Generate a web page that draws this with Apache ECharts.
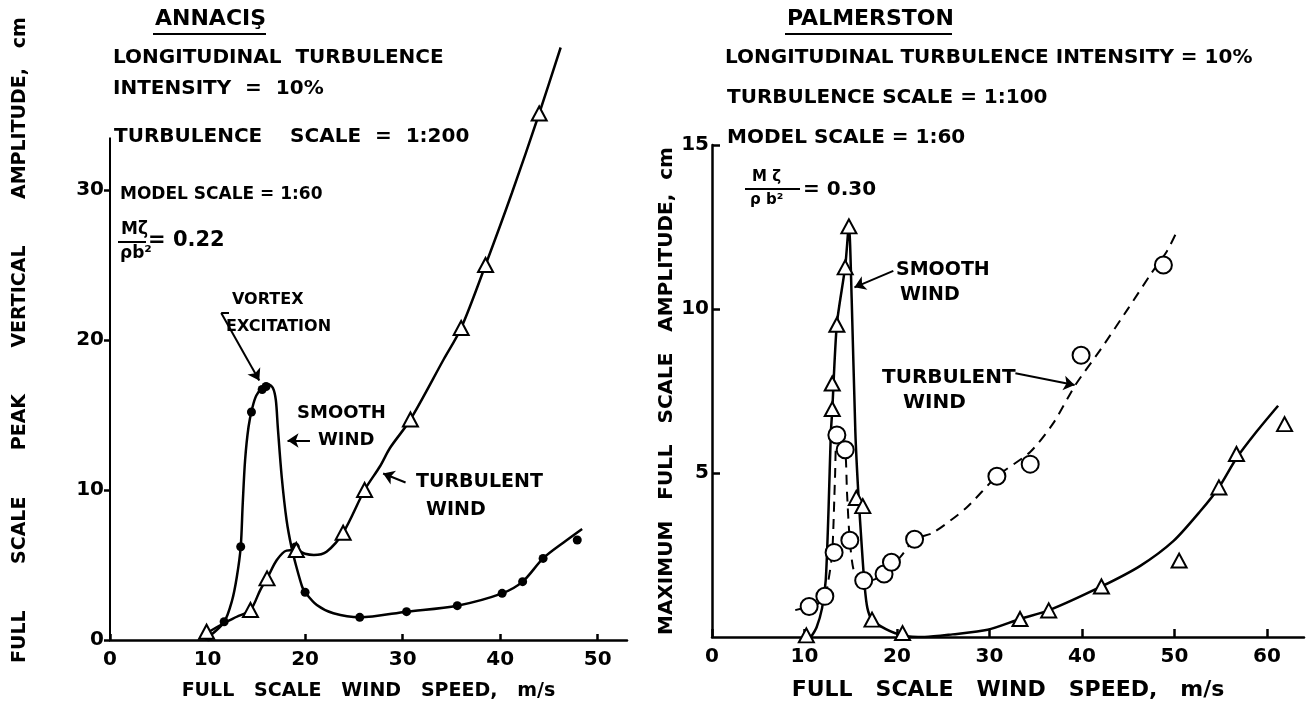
<!DOCTYPE html>
<html>
<head>
<meta charset="utf-8">
<script src="https://cdn.jsdelivr.net/npm/echarts@6/dist/echarts.min.js"></script>
<style>
html,body{margin:0;padding:0;background:#fff;}
#chart{width:1306px;height:706px;}
</style>
</head>
<body>
<div id="chart"></div>
<script>
/* data begin */
// ANNACIS (left) : smooth wind = dots, turbulent wind = triangles
var annSmoothCurve = [[10.1,0.2],[11.7,1.2],[12.5,2.6],[13.0,4.2],[13.4,6.2],[13.6,9.0],[13.85,12.0],[14.2,14.2],[14.6,15.5],[15.0,16.3],[15.6,16.8],[16.2,17.05],[16.7,16.8],[17.0,16.0],[17.2,14.2],[17.6,10.9],[18.1,8.0],[18.6,6.2],[19.1,4.9],[19.7,3.55],[20.0,3.18],[21.2,2.33],[22.9,1.78],[25.6,1.51],[30.4,1.89],[35.6,2.29],[40.2,3.11],[42.3,3.89],[44.4,5.44],[46.5,6.5],[48.4,7.4]];
var annSmoothPts = [[10.1,0.22],[11.7,1.22],[13.4,6.22],[14.5,15.2],[15.6,16.7],[16.0,16.9],[19.0,6.2],[20.0,3.18],[25.6,1.51],[30.4,1.89],[35.6,2.29],[40.2,3.11],[42.3,3.89],[44.4,5.44],[47.9,6.67]];
var annTurbCurve = [[9.9,0.45],[11.6,1.1],[13.0,1.55],[14.4,2.0],[15.4,3.33],[16.1,4.1],[17.1,5.33],[18.1,5.96],[19.1,6.0],[20.0,5.75],[20.9,5.67],[22.2,5.89],[23.9,7.15],[26.1,10.0],[27.7,11.6],[28.7,12.8],[30.8,14.7],[34.2,18.7],[36.0,20.8],[38.5,25.0],[41.2,29.8],[44.0,35.1],[46.2,39.5]];
var annTurbPts = [[9.9,0.55],[14.4,2.0],[16.1,4.11],[19.1,6.0],[23.9,7.15],[26.1,10.0],[30.8,14.7],[36.0,20.8],[38.5,25.0],[44.0,35.1]];
var annXTicks = [0,10,20,30,40,50];
var annYTicks = [0,10,20,30];

// PALMERSTON (right) : smooth wind = triangles (solid), turbulent wind = circles (dashed)
var palSmoothCurve = [[10.7,0],[11.3,0.29],[11.9,0.88],[12.3,1.75],[12.6,3.89],[12.85,6.23],[13.0,6.91],[13.5,9.54],[14.4,11.29],[14.8,12.55],[15.1,10.31],[15.5,6.23],[15.8,4.48],[16.2,2.72],[16.5,1.56],[16.8,0.88],[17.3,0.53],[18.8,0.24],[20.6,0.05],[23,0],[26,0.08],[29.8,0.22],[33.3,0.55],[36.4,0.81],[42.1,1.54],[46.3,2.17],[49.9,2.93],[52.8,3.84],[54.8,4.56],[56.7,5.45],[58.9,6.27],[61.2,7.05]];
var palSmoothPts = [[10.2,0.05],[13.0,6.95],[13.0,7.73],[13.5,9.52],[14.4,11.27],[14.8,12.52],[15.6,4.24],[16.3,3.99],[17.3,0.53],[20.6,0.12],[33.3,0.55],[36.4,0.81],[42.1,1.54],[50.5,2.33],[54.8,4.56],[56.7,5.58],[61.9,6.49]];
var palTurbCurve = [[9.0,0.82],[10.5,0.93],[11.5,1.02],[12.2,1.24],[12.6,1.75],[13.0,2.58],[13.3,4.87],[13.5,6.16],[14.0,5.94],[14.4,5.71],[14.6,4.38],[14.9,2.95],[15.4,1.95],[16.4,1.72],[17.5,1.75],[18.6,1.92],[19.4,2.28],[20.3,2.42],[21.9,2.98],[23.9,3.18],[27.5,3.94],[30.8,4.9],[34.4,5.64],[36.9,6.52],[39.3,7.69],[42,8.76],[45,10.02],[47.5,11.09],[49.2,11.77],[50.4,12.45]];
var palTurbPts = [[10.5,0.93],[12.2,1.24],[13.2,2.58],[13.5,6.16],[14.4,5.71],[14.9,2.95],[16.4,1.72],[18.6,1.92],[19.4,2.28],[21.9,2.98],[30.8,4.9],[34.4,5.27],[39.9,8.59],[48.8,11.34]];
var palXTicks = [0,10,20,30,40,50,60];
var palYTicks = [5,10,15];
/* data end */

var FONT = "'DejaVu Sans', sans-serif";

function txt(x, y, s, size, weight) {
    return {
        type: 'text', x: x, y: y,
        style: { text: s, fill: '#000', fontSize: size, fontWeight: weight || 'bold', fontFamily: FONT, verticalAlign: 'middle' }
    };
}
function seg(x1, y1, x2, y2, w) {
    return { type: 'line', shape: { x1: x1, y1: y1, x2: x2, y2: y2 }, style: { stroke: '#000', lineWidth: w || 2 } };
}

var tickLabel = { color: '#000', fontSize: 20, fontWeight: 'bold', fontFamily: FONT };
var blackLine = { color: '#000', width: 2.5 };
var openMark = { color: '#fff', borderColor: '#000', borderWidth: 2, opacity: 1 };

var chart = echarts.init(document.getElementById('chart'), null, { renderer: 'canvas' });

var option = {
    backgroundColor: '#fff',
    animation: false,
    grid: [
        { left: 110, top: 40, width: 517, height: 600 },
        { left: 712, top: 145, width: 592, height: 495 }
    ],
    xAxis: [
        {
            gridIndex: 0, type: 'value', min: 0, max: 53, interval: 10,
            name: 'FULL   SCALE   WIND   SPEED,   m/s', nameLocation: 'middle', nameGap: 42,
            nameTextStyle: { color: '#000', fontSize: 19, fontWeight: 'bold', fontFamily: FONT },
            axisLine: { lineStyle: blackLine },
            axisTick: { inside: true, length: 6, lineStyle: blackLine, customValues: annXTicks },
            axisLabel: Object.assign({ margin: 10, customValues: annXTicks }, tickLabel),
            splitLine: { show: false }
        },
        {
            gridIndex: 1, type: 'value', min: 0, max: 64, interval: 10,
            name: 'FULL   SCALE   WIND   SPEED,   m/s', nameLocation: 'middle', nameGap: 42,
            nameTextStyle: { color: '#000', fontSize: 22, fontWeight: 'bold', fontFamily: FONT },
            axisLine: { lineStyle: blackLine },
            axisTick: { inside: true, length: 8, lineStyle: blackLine, customValues: palXTicks },
            axisLabel: Object.assign({ margin: 10, customValues: palXTicks }, tickLabel),
            splitLine: { show: false }
        }
    ],
    yAxis: [
        {
            gridIndex: 0, type: 'value', min: 0, max: 40, interval: 10,
            name: 'FULL       SCALE       PEAK       VERTICAL       AMPLITUDE,   cm', nameLocation: 'middle', nameGap: 80,
            nameTextStyle: { color: '#000', fontSize: 19, fontWeight: 'bold', fontFamily: FONT },
            axisLine: { show: false },
            axisTick: { inside: false, length: 6, lineStyle: blackLine, customValues: annYTicks },
            axisLabel: Object.assign({ margin: 6, customValues: annYTicks }, tickLabel),
            splitLine: { show: false }
        },
        {
            gridIndex: 1, type: 'value', min: 0, max: 15, interval: 5,
            name: 'MAXIMUM   FULL   SCALE   AMPLITUDE,  cm', nameLocation: 'middle', nameGap: 30,
            nameTextStyle: { color: '#000', fontSize: 20, fontWeight: 'bold', fontFamily: FONT },
            axisLine: { lineStyle: blackLine },
            axisTick: { inside: true, length: 8, lineStyle: blackLine, customValues: palYTicks },
            axisLabel: Object.assign({ margin: 3, customValues: palYTicks }, tickLabel),
            splitLine: { show: false }
        }
    ],
    series: [
        //ANNACIS begin
        {
            name: 'annSmoothCurve', type: 'line', xAxisIndex: 0, yAxisIndex: 0,
            data: annSmoothCurve, smooth: 0.3, showSymbol: false, lineStyle: blackLine, z: 2,
            markLine: {
                silent: true, symbol: ['none', 'arrow'], symbolSize: 11,
                lineStyle: { color: '#000', width: 2, type: 'solid' }, label: { show: false },
                data: [
                    [{ coord: [0, 0], symbol: 'none' }, { coord: [0, 33.5], symbol: 'none' }],
                    [{ coord: [12.2, 21.8], symbol: 'none' }, { coord: [11.4, 21.8], symbol: 'none' }],
                    [{ coord: [11.4, 21.8] }, { coord: [15.3, 17.3] }],
                    [{ coord: [20.5, 13.3] }, { coord: [18.2, 13.3] }],
                    [{ coord: [30.3, 10.5] }, { coord: [28.0, 11.1] }]
                ]
            }
        },
        {
            name: 'annSmoothPts', type: 'scatter', xAxisIndex: 0, yAxisIndex: 0,
            data: annSmoothPts, symbol: 'circle', symbolSize: 9, itemStyle: { color: '#000', opacity: 1 }, z: 3
        },
        {
            name: 'annTurbCurve', type: 'line', xAxisIndex: 0, yAxisIndex: 0,
            data: annTurbCurve, smooth: 0.3, showSymbol: false, lineStyle: blackLine, z: 2
        },
        {
            name: 'annTurbPts', type: 'scatter', xAxisIndex: 0, yAxisIndex: 0,
            data: annTurbPts, symbol: 'triangle', symbolSize: [15, 14], itemStyle: openMark, z: 4
        },
        //ANNACIS end
        //PALMERSTON begin
        {
            name: 'palSmoothCurve', type: 'line', xAxisIndex: 1, yAxisIndex: 1,
            data: palSmoothCurve, smooth: 0.25, showSymbol: false, lineStyle: blackLine, z: 2,
            markLine: {
                silent: true, symbol: ['none', 'arrow'], symbolSize: 11,
                lineStyle: { color: '#000', width: 2, type: 'solid' }, label: { show: false },
                data: [
                    [{ coord: [19.6, 11.16] }, { coord: [15.4, 10.66] }],
                    [{ coord: [32.8, 8.04] }, { coord: [39.2, 7.68] }]
                ]
            }
        },
        {
            name: 'palSmoothPts', type: 'scatter', xAxisIndex: 1, yAxisIndex: 1,
            data: palSmoothPts, symbol: 'triangle', symbolSize: [15, 14], itemStyle: openMark, z: 4
        },
        {
            name: 'palTurbCurve', type: 'line', xAxisIndex: 1, yAxisIndex: 1,
            data: palTurbCurve, smooth: 0.25, showSymbol: false,
            lineStyle: { color: '#000', width: 2, type: [10, 7] }, z: 2
        },
        {
            name: 'palTurbPts', type: 'scatter', xAxisIndex: 1, yAxisIndex: 1,
            data: palTurbPts, symbol: 'circle', symbolSize: 17, itemStyle: openMark, z: 3
        }
        //PALMERSTON end
    ],
    graphic: [
        //left texts
        txt(155, 19, 'ANNACIŞ', 22), seg(153, 34, 266, 34),
        txt(113, 58, 'LONGITUDINAL  TURBULENCE', 20),
        txt(113, 89, 'INTENSITY  =  10%', 20),
        txt(114, 137, 'TURBULENCE    SCALE  =  1:200', 20),
        txt(120, 195, 'MODEL SCALE = 1:60', 17),
        txt(121, 230, 'Mζ', 17), seg(118, 242, 146, 242), txt(120, 254, 'ρb²', 17),
        txt(148, 241, '= 0.22', 21),
        txt(232, 300, 'VORTEX', 16), txt(226, 327, 'EXCITATION', 16),
        txt(297, 413, 'SMOOTH', 18), txt(318, 440, 'WIND', 18),
        txt(416, 482, 'TURBULENT', 19), txt(426, 510, 'WIND', 19),
        //right texts
        txt(787, 19, 'PALMERSTON', 22), seg(785, 34, 952, 34),
        txt(725, 58, 'LONGITUDINAL TURBULENCE INTENSITY = 10%', 20),
        txt(727, 98, 'TURBULENCE SCALE = 1:100', 20),
        txt(727, 138, 'MODEL SCALE = 1:60', 20),
        txt(752, 177, 'M ζ', 15), seg(745, 189, 800, 189), txt(750, 200, 'ρ b²', 15),
        txt(803, 190, '= 0.30', 20),
        txt(896, 270, 'SMOOTH', 19), txt(900, 295, 'WIND', 19),
        txt(882, 378, 'TURBULENT', 20), txt(903, 403, 'WIND', 20)
    ]
};

chart.setOption(option);
</script>
</body>
</html>
